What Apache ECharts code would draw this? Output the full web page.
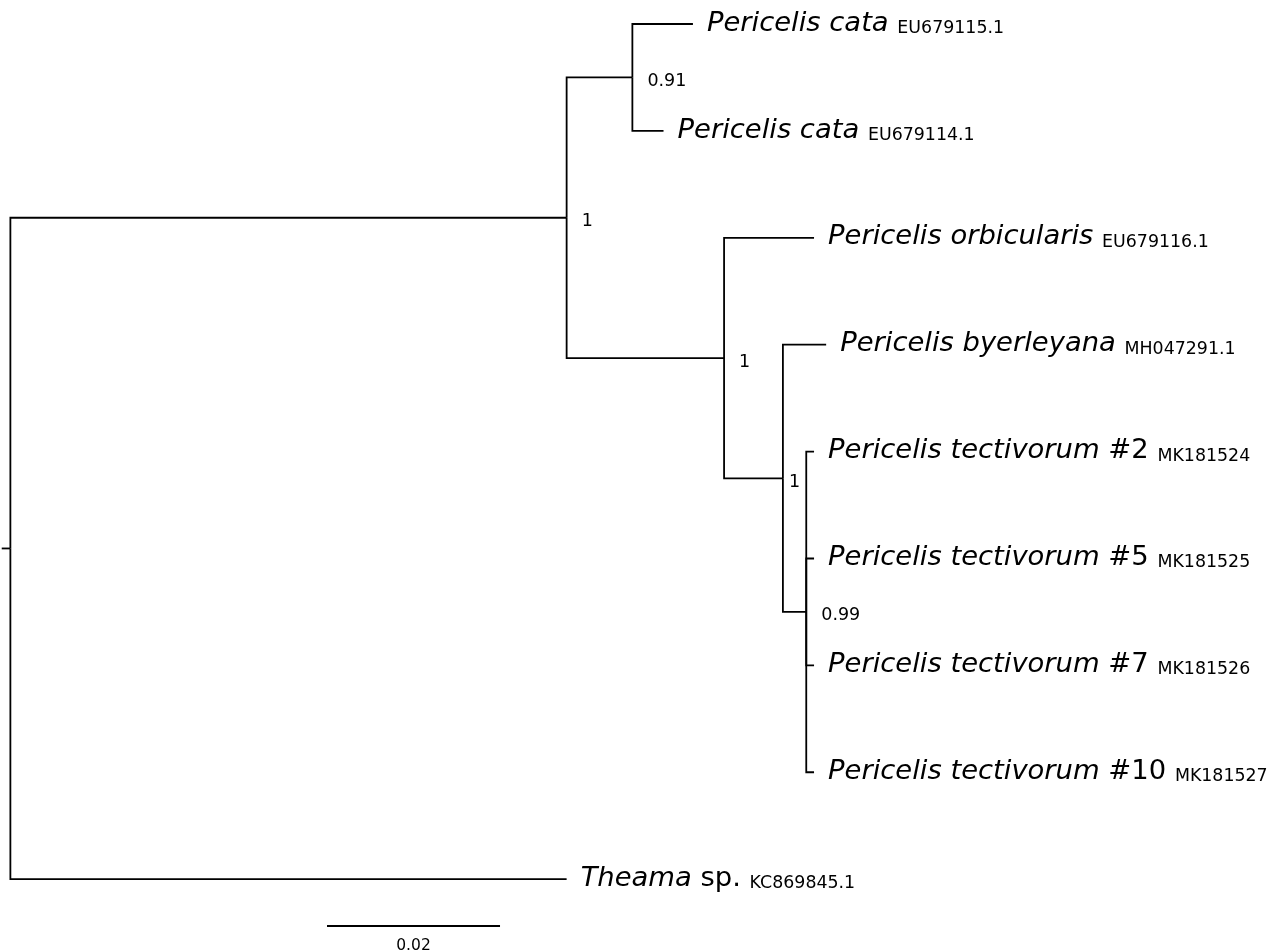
<!DOCTYPE html>
<html><head><meta charset="utf-8">
<script src="https://cdn.jsdelivr.net/npm/echarts@6/dist/echarts.min.js"></script>
<style>html,body{margin:0;padding:0;background:#fff}#chart{width:1276px;height:951px}</style>
</head><body><div id="chart"></div>
<script>
// ---- tree data ----
const nodeIds       = ['root','A','B','cata1','cata2','C','orb','D','byer','E','tect2','tect5','tect7','tect10','theama'];
const nodeParents   = [null,'root','A','B','B','A','C','C','D','D','E','E','E','E','root'];
const branchLengths = [0.001,0.0643,0.0076,0.0070,0.0036,0.0182,0.0104,0.0068,0.0050,0.0027,0.0009,0.0009,0.0009,0.0009,0.0643];
const supportValues = [null,'1','0.91',null,null,'1',null,'1',null,'0.99',null,null,null,null,null];
// tips, top to bottom
const tipIds         = ['cata1','cata2','orb','byer','tect2','tect5','tect7','tect10','theama'];
const tipNamesItalic = ['Pericelis cata','Pericelis cata','Pericelis orbicularis','Pericelis byerleyana','Pericelis tectivorum','Pericelis tectivorum','Pericelis tectivorum','Pericelis tectivorum','Theama'];
const tipNamesPlain  = ['','','','',' #2',' #5',' #7',' #10',' sp.'];
const tipAccessions  = ['EU679115.1','EU679114.1','EU679116.1','MH047291.1','MK181524','MK181525','MK181526','MK181527','KC869845.1'];
const scaleBarLength = 0.02;
const scaleBarLabel  = '0.02';

// ---- layout (derived from data) ----
const FONT = 'DejaVu Sans';
const idx = {}; nodeIds.forEach((id, i) => idx[id] = i);
const children = {}; nodeIds.forEach(id => children[id] = []);
nodeParents.forEach((p, i) => { if (p) children[p].push(nodeIds[i]); });
const depth = {}, ypos = {};
function setDepth(id, d) { depth[id] = d; children[id].forEach(c => setDepth(c, d + branchLengths[idx[c]])); }
setDepth('root', 0);
tipIds.forEach((id, i) => ypos[id] = i);
function setY(id) {
  if (ypos[id] !== undefined) return ypos[id];
  const ys = children[id].map(setY);
  ypos[id] = (ys[0] + ys[ys.length - 1]) / 2;
  return ypos[id];
}
setY('root');

const branchData = [];
nodeIds.forEach((id, i) => {
  const p = nodeParents[i];
  if (p) branchData.push([depth[p], depth[id], ypos[p], ypos[id]]);
  else branchData.push([-branchLengths[i], 0, ypos[id], ypos[id]]);
});
const tipData = tipIds.map((id, i) => [depth[id], ypos[id], i]);
const supportDx = { D: 6 };
const supportData = [];
nodeIds.forEach((id, i) => { if (supportValues[i]) supportData.push([depth[id], ypos[id], supportValues[i], supportDx[id] !== undefined ? supportDx[id] : 15]); });
const scaleBarStart = 0.0366, scaleBarY = 8.438;

const chart = echarts.init(document.getElementById('chart'));
chart.setOption({
  animation: false,
  backgroundColor: '#fff',
  grid: { left: 0, right: 0, top: 0, bottom: 0 },
  xAxis: { type: 'value', min: -0.0012, max: 0.1463, show: false },
  yAxis: { type: 'value', inverse: true, min: -0.2245, max: 8.672, show: false },
  series: [
    {
      type: 'custom', data: branchData,
      renderItem(params, api) {
        const p0 = api.coord([api.value(0), api.value(2)]);
        const p1 = api.coord([api.value(0), api.value(3)]);
        const p2 = api.coord([api.value(1), api.value(3)]);
        return { type: 'polyline', shape: { points: [p0, p1, p2] }, style: { stroke: '#000', lineWidth: 1.8, fill: 'none' } };
      }
    },
    {
      type: 'custom', data: tipData,
      renderItem(params, api) {
        const i = api.value(2);
        const pt = api.coord([api.value(0), api.value(1)]);
        let text = '{i|' + tipNamesItalic[i] + '}';
        text += '{p|' + tipNamesPlain[i] + ' }';
        text += '{a|' + tipAccessions[i] + '}';
        return {
          type: 'text', x: pt[0] + 14, y: pt[1] - 1,
          style: {
            text: text, align: 'left', verticalAlign: 'middle', fill: '#000',
            rich: {
              i: { fontFamily: FONT, fontStyle: 'italic', fontSize: 27.4, lineHeight: 28, verticalAlign: 'bottom', fill: '#000' },
              p: { fontFamily: FONT, fontSize: 27.4, lineHeight: 28, verticalAlign: 'bottom', fill: '#000' },
              a: { fontFamily: FONT, fontSize: 17.4, lineHeight: 25, verticalAlign: 'bottom', fill: '#000' }
            }
          }
        };
      }
    },
    {
      type: 'custom', data: supportData,
      dimensions: ['x', 'y', 'label', 'dx'],
      renderItem(params, api) {
        const d = supportData[params.dataIndex];
        const pt = api.coord([d[0], d[1]]);
        return { type: 'text', x: pt[0] + d[3], y: pt[1] + 4,
          style: { text: d[2], fontFamily: FONT, fontSize: 17.5, fill: '#000', align: 'left', verticalAlign: 'middle' } };
      }
    },
    {
      type: 'custom', data: [[scaleBarStart, scaleBarStart + scaleBarLength, scaleBarY]],
      renderItem(params, api) {
        const a = api.coord([api.value(0), api.value(2)]);
        const b = api.coord([api.value(1), api.value(2)]);
        return { type: 'group', children: [
          { type: 'line', shape: { x1: a[0], y1: a[1], x2: b[0], y2: b[1] }, style: { stroke: '#000', lineWidth: 1.8 } },
          { type: 'text', x: (a[0] + b[0]) / 2, y: a[1] + 20,
            style: { text: scaleBarLabel, fontFamily: FONT, fontSize: 15.5, fill: '#000', align: 'center', verticalAlign: 'middle' } }
        ] };
      }
    }
  ]
});
</script></body></html>
